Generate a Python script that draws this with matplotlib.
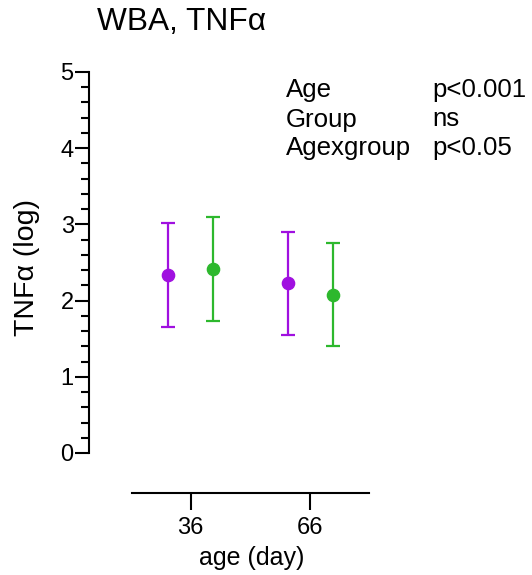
import matplotlib
matplotlib.use("Agg")
import matplotlib.pyplot as plt
from matplotlib.ticker import FixedLocator
import numpy as np

plt.rcParams['font.family'] = ['Liberation Sans', 'DejaVu Sans']

# Data: TNFα (log), mean ± error, per age and group
ages = [36, 66]
age_labels = ["36", "66"]
group_offset = 5.7
purple_mean = [2.34, 2.225]
purple_err = [0.68, 0.675]
green_mean = [2.415, 2.08]
green_err = [0.685, 0.67]

stats_names = ["Age", "Group", "Agexgroup"]
stats_values = ["p<0.001", "ns", "p<0.05"]

PURPLE = "#A010E0"
GREEN = "#2DB82D"

W, H = 532, 575
fig = plt.figure(figsize=(W / 100, H / 100), dpi=100)
ax = fig.add_axes([89 / W, 1 - 493 / H, (369 - 89) / W, (493 - 72) / H])

ax.set_xlim(10.5, 80.7)
ax.set_ylim(-0.525, 5.0)

ekw = dict(fmt="o", markersize=8.8, elinewidth=1.6, capsize=5, capthick=1.6,
           clip_on=False, zorder=3)
ax.errorbar([a - group_offset for a in ages], purple_mean, yerr=purple_err,
            color=PURPLE, ecolor=PURPLE, **ekw)
ax.errorbar([a + group_offset for a in ages], green_mean, yerr=green_err,
            color=GREEN, ecolor=GREEN, **ekw)

# Prism-style detached axes
for s in ("top", "right"):
    ax.spines[s].set_visible(False)
ax.spines["left"].set_bounds(0, 5)
ax.spines["bottom"].set_bounds(21.2, 80.7)
for s in ("left", "bottom"):
    ax.spines[s].set_linewidth(1.5)
    ax.spines[s].set_color("black")

ax.set_yticks(range(0, 6))
ax.yaxis.set_minor_locator(FixedLocator(np.arange(0, 5.01, 0.2)))
ax.tick_params(axis="y", which="major", length=10, width=1.5, pad=1, labelsize=17)
ax.tick_params(axis="y", which="minor", length=5.5, width=1.5)

ax.set_xticks(ages)
ax.set_xticklabels(age_labels)
ax.tick_params(axis="x", which="major", length=12, width=1.5, pad=5, labelsize=17)

ax.set_ylabel("TNFα (log)", fontsize=20.5, va="center")
ax.yaxis.set_label_coords((26.5 - 89) / 280, (493 - 267.5) / 421)
ax.set_xlabel("age (day)", fontsize=18, va="center")
ax.xaxis.set_label_coords((251.7 - 89) / 280, (493 - 558) / 421)

fig.text(97 / W, 1 - 29.5 / H, "WBA, TNFα", fontsize=22.8, va="baseline", ha="left")

baselines = [97.5, 126.5, 155.5]
for name, val, yb in zip(stats_names, stats_values, baselines):
    fig.text(286 / W, 1 - yb / H, name, fontsize=18.6, va="baseline", ha="left")
    fig.text(432 / W, 1 - yb / H, val, fontsize=18.6, va="baseline", ha="left")

fig.savefig("out.png", dpi=100)
